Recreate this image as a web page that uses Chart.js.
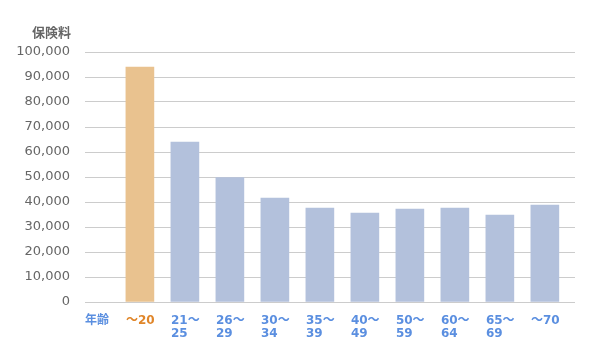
<!DOCTYPE html>
<html><head><meta charset="utf-8">
<script src="https://cdn.jsdelivr.net/npm/chart.js@4.4.0/dist/chart.umd.min.js"></script>
<style>html,body{margin:0;padding:0;background:#fff;}#wrap{width:600px;height:360px;}</style>
</head><body><div id="wrap"><canvas id="c" width="600" height="360"></canvas></div>
<script>
const axisLabel = "年齢";
const categories = [["～20"], ["21～", "25"], ["26～", "29"], ["30～", "34"], ["35～", "39"], ["40～", "49"], ["50～", "59"], ["60～", "64"], ["65～", "69"], ["～70"]];
const premiums = [94000, 64000, 49800, 41600, 37600, 35600, 37200, 37600, 34800, 38800];
const yTicks = [0, 10000, 20000, 30000, 40000, 50000, 60000, 70000, 80000, 90000, 100000];
const yTitle = "保険料";

const FONT = "'DejaVu Sans', 'Noto Sans CJK JP', sans-serif";
const CJK = "'Noto Sans CJK JP', sans-serif";
const tickLabels = [[axisLabel]].concat(categories);
const points = premiums.map((v, i) => ({x: i + 1, y: v}));
const barColors = premiums.map((v, i) => i === 0 ? '#e9c28f' : '#b3c1dc');

const yTitlePlugin = {
  id: 'yTitle',
  afterDraw(chart) {
    const {ctx, chartArea} = chart;
    ctx.save();
    ctx.font = "bold 13px " + CJK;
    ctx.fillStyle = '#666';
    ctx.textAlign = 'right';
    ctx.textBaseline = 'middle';
    ctx.fillText(yTitle, chartArea.left - 14, chartArea.top - 20);
    ctx.restore();
  }
};

new Chart(document.getElementById('c'), {
  type: 'bar',
  data: {
    datasets: [{
      data: points,
      backgroundColor: barColors,
      borderWidth: 0,
      barThickness: 28
    }]
  },
  plugins: [yTitlePlugin],
  options: {
    responsive: false,
    animation: false,
    layout: {padding: {left: 10, right: 25, top: 52, bottom: 0}},
    plugins: {
      legend: {display: false},
      tooltip: {enabled: false},
      title: {display: false}
    },
    scales: {
      x: {
        type: 'linear',
        offset: false,
        min: -0.22, max: 10.67,
        grid: {display: false, drawTicks: false},
        border: {display: false},
        afterBuildTicks: s => { s.ticks = tickLabels.map((l, i) => ({value: i === 0 ? -0.22 : i - 0.31})); },
        afterFit: s => { s.height = 58; },
        ticks: {
          autoSkip: false, maxRotation: 0, minRotation: 0, align: 'start', padding: 13,
          callback: (v, i) => tickLabels[i],
          color: ctx => ctx.index === 1 ? '#e0862a' : '#5b8fe0',
          font: {family: FONT, size: 12, weight: 'bold', lineHeight: 1.05}
        }
      },
      y: {
        min: 0, max: 100000,
        grid: {color: '#cccccc', lineWidth: 1, drawTicks: false},
        border: {display: false},
        afterBuildTicks: s => { s.ticks = yTicks.map(v => ({value: v})); },
        afterFit: s => { s.width = 75; },
        ticks: {
          padding: 15, color: '#666',
          font: {family: FONT, size: 13},
          callback: v => v.toLocaleString('en-US')
        }
      }
    }
  }
});
</script></body></html>
